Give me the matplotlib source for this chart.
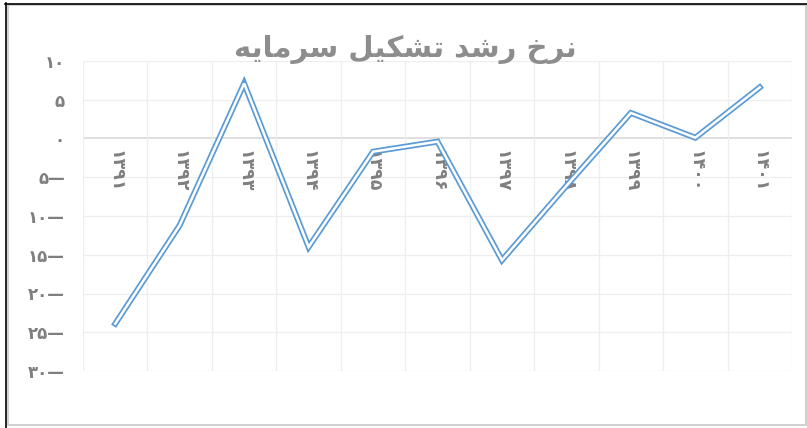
import matplotlib
matplotlib.use('Agg')
import matplotlib.pyplot as plt
from matplotlib.lines import Line2D

# matplotlib does not shape arabic, so the title words are written
# with contextual forms in the order they are seen (left to right)
W_SARMAYEH = '\uFEEA\uFBFE\uFE8E\uFEE3\uFEAE\uFEB3'
W_TASHKIL = '\uFEDE\uFBFF\uFB91\uFEB8\uFE97'
W_ROSHD = '\uFEAA\uFEB7\uFEAD'
W_NERKH = '\uFEA5\uFEAE\uFEE7'
TITLE = ' '.join([W_SARMAYEH, W_TASHKIL, W_ROSHD, W_NERKH])

years = ['۱۳۹۱', '۱۳۹۲', '۱۳۹۳', '۱۳۹۴', '۱۳۹۵', '۱۳۹۶',
         '۱۳۹۷', '۱۳۹۸', '۱۳۹۹', '۱۴۰۰', '۱۴۰۱']
growth = [-23.9, -11.2, 7.1, -14.0, -1.7, -0.4, -15.7, -6.1, 3.3, 0.1, 6.6]

y_ticks = [10, 5, 0, -5, -10, -15, -20, -25, -30]
y_labels = ['۱۰', '۵', '۰', '۵—', '۱۰—', '۱۵—', '۲۰—', '۲۵—', '۳۰—']

BLUE = '#5b9bd5'
GREY = '#7f7f7f'

fig = plt.figure(figsize=(8.07, 4.28), dpi=100)
ax = fig.add_axes([83 / 807, 1 - 371 / 428, 709 / 807, 310 / 428])

x = list(range(len(years)))
# double line look: wide blue with a thin white core
ax.plot(x, growth, color=BLUE, lw=4.3, solid_joinstyle='miter', zorder=3)
ax.plot(x, growth, color='white', lw=1.8, solid_joinstyle='miter', zorder=4)

ax.set_xlim(-0.5, len(years) - 0.5)
ax.set_ylim(-30, 10)
ax.set_yticks(y_ticks)
ax.set_yticklabels(y_labels, fontsize=12, fontweight='bold', color=GREY)
ax.tick_params(axis='y', length=0, pad=13)
ax.set_xticks([])

for yt in y_ticks:
    ax.axhline(yt, color='#d9d9d9' if yt == 0 else '#eeeeee',
               lw=1.2 if yt == 0 else 0.9, zorder=1)
for i in range(len(years) + 1):
    ax.axvline(i - 0.5, color='#eeeeee', lw=0.9, zorder=1)

for s in ax.spines.values():
    s.set_visible(False)

for i, lab in enumerate(years):
    ax.annotate(lab, (i, 0), xytext=(0, -8), textcoords='offset points',
                rotation=-90, ha='center', va='top', fontsize=12.5,
                fontweight='bold', color=GREY, zorder=2)

fig.text(405 / 807, 1 - 49 / 428, TITLE, ha='center', va='center',
         fontsize=21, fontweight='bold', color='#8d8d8d')

# chart frame
fig.add_artist(Line2D([5 / 807, 1], [1 - 3.5 / 428] * 2, color='black', lw=1.2))
fig.add_artist(Line2D([5.5 / 807] * 2, [0, 1 - 3 / 428], color='black', lw=1.2))
fig.add_artist(plt.Rectangle((7.5 / 807, 3 / 428), 798 / 807, 420 / 428,
                             fill=False, ec='#c8c8c8', lw=1.2))

fig.savefig('out.png', dpi=100)
